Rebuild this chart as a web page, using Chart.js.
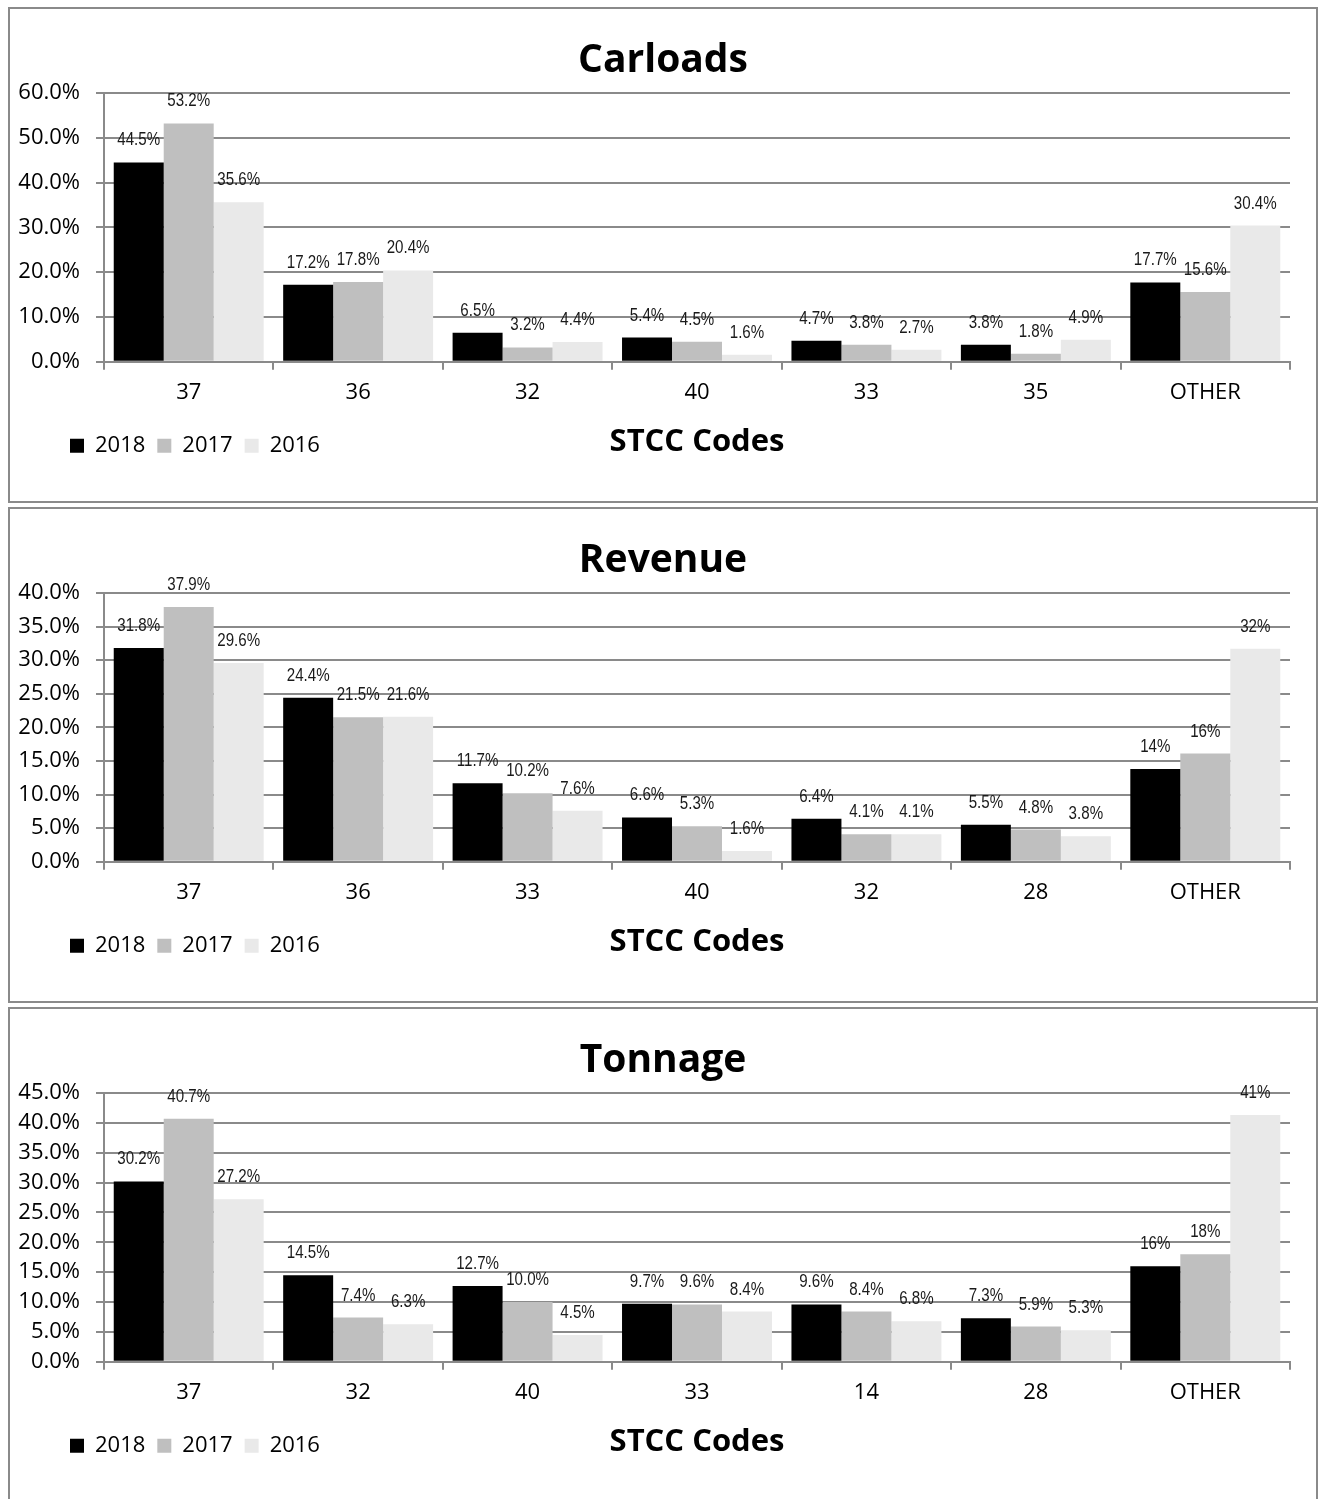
<!DOCTYPE html>
<html>
<head>
<meta charset="utf-8">
<script src="https://cdn.jsdelivr.net/npm/chart.js@4.4.1/dist/chart.umd.min.js"></script>
<style>
  html, body { margin: 0; padding: 0; background: #fff; }
  .box { position: absolute; left: 8px; width: 1306px; height: 492px; border: 2px solid #8a8a8a; background: #fff; }
  .box canvas { display: block; }
</style>
</head>
<body>
<div class="box" style="top:7px"><canvas id="c0" width="1306" height="492"></canvas></div>
<div class="box" style="top:507px"><canvas id="c1" width="1306" height="492"></canvas></div>
<div class="box" style="top:1007px"><canvas id="c2" width="1306" height="492"></canvas></div>
<script>
// ---------- data ----------
const yearLabels = ['2018', '2017', '2016'];
const xAxisTitle = 'STCC Codes';

const carloadTitle = 'Carloads';
const carloadCodes = ['37', '36', '32', '40', '33', '35', 'OTHER'];
const carloads2018 = [44.5, 17.2, 6.5, 5.4, 4.7, 3.8, 17.7];
const carloads2017 = [53.2, 17.8, 3.2, 4.5, 3.8, 1.8, 15.6];
const carloads2016 = [35.6, 20.4, 4.4, 1.6, 2.7, 4.9, 30.4];
const carloadDigits = [1, 1, 1, 1, 1, 1, 1];
const carloadYMax = 60, carloadYStep = 10;

const revenueTitle = 'Revenue';
const revenueCodes = ['37', '36', '33', '40', '32', '28', 'OTHER'];
const revenue2018 = [31.8, 24.4, 11.7, 6.6, 6.4, 5.5, 13.8];
const revenue2017 = [37.9, 21.5, 10.2, 5.3, 4.1, 4.8, 16.1];
const revenue2016 = [29.6, 21.6, 7.6, 1.6, 4.1, 3.8, 31.7];
const revenueDigits = [1, 1, 1, 1, 1, 1, 0];
const revenueYMax = 40, revenueYStep = 5;

const tonnageTitle = 'Tonnage';
const tonnageCodes = ['37', '32', '40', '33', '14', '28', 'OTHER'];
const tonnage2018 = [30.2, 14.5, 12.7, 9.7, 9.6, 7.3, 16.0];
const tonnage2017 = [40.7, 7.4, 10.0, 9.6, 8.4, 5.9, 18.0];
const tonnage2016 = [27.2, 6.3, 4.5, 8.4, 6.8, 5.3, 41.3];
const tonnageDigits = [1, 1, 1, 1, 1, 1, 0];
const tonnageYMax = 45, tonnageYStep = 5;

// ---------- styles ----------
const FONT = "'Open Sans', 'Liberation Sans', Arial, sans-serif";
const LABEL_FONT = "18px 'Liberation Sans', Arial, sans-serif";
const GRID = '#8a8a8a';
const barColors = ['#000000', '#bfbfbf', '#e9e9e9'];
const AXIS_TITLE_SIZE = 31;

const barLabels = {
  id: 'barLabels',
  afterDatasetsDraw(chart, args, opts) {
    const ctx = chart.ctx;
    chart.data.datasets.forEach((ds, di) => {
      const meta = chart.getDatasetMeta(di);
      meta.data.forEach((bar, i) => {
        const d = opts.digits[i];
        ctx.save();
        ctx.font = LABEL_FONT;
        ctx.fillStyle = '#1a1a1a';
        ctx.textAlign = 'center';
        ctx.textBaseline = 'middle';
        ctx.translate(bar.x, bar.y - 22);
        ctx.scale(0.84, 1);
        ctx.fillText(Number(ds.data[i]).toFixed(d) + '%', 0, 0);
        ctx.restore();
      });
    });
  }
};

const legendBeside = {
  id: 'legendBeside',
  afterLayout(chart) {
    const lg = chart.legend;
    const xs = chart.scales.x;
    const titleCenter = xs.bottom - 4 - AXIS_TITLE_SIZE * 1.2 / 2;
    const top = titleCenter + 4 - 12 - 11;
    lg.top = top; lg.height = 60; lg.bottom = top + 60;
    lg.left = 60 - 12; lg.width = 420; lg.right = lg.left + 420;
    const tb = chart.titleBlock;
    if (tb) { tb.left = 26; tb.width = tb.right - tb.left; }
  }
};

function makeChart(id, title, codes, s18, s17, s16, digits, yMax, yStep) {
  const series = [s18, s17, s16];
  return new Chart(document.getElementById(id), {
    type: 'bar',
    data: {
      labels: codes,
      datasets: yearLabels.map((y, i) => ({
        label: y,
        data: series[i],
        backgroundColor: barColors[i],
        borderWidth: 0,
        categoryPercentage: 0.885,
        barPercentage: 1.0
      }))
    },
    options: {
      responsive: false,
      devicePixelRatio: 1,
      animation: false,
      layout: { padding: { top: 0, left: 0, right: 26, bottom: 26.6 } },
      plugins: {
        title: {
          display: true, text: title, color: '#000',
          font: { family: FONT, size: 39, weight: 'bold' },
          padding: { top: 28.6, bottom: 8.6 }
        },
        legend: {
          display: true, position: 'bottom', align: 'start', maxHeight: 10,
          labels: {
            font: { family: FONT, size: 22 }, color: '#000',
            boxWidth: 14, boxHeight: 14, padding: 12
          }
        },
        tooltip: { enabled: false },
        barLabels: { digits: digits }
      },
      scales: {
        x: {
          grid: { display: true, drawOnChartArea: false, drawTicks: true, tickLength: 8, color: GRID, lineWidth: 2, offset: true },
          border: { display: true, color: GRID, width: 2 },
          ticks: { font: { family: FONT, size: 22 }, color: '#000', padding: 10 },
          title: {
            display: true, text: xAxisTitle, color: '#000',
            font: { family: FONT, size: AXIS_TITLE_SIZE, weight: 'bold' },
            padding: { top: 7, bottom: 4 }
          }
        },
        y: {
          min: 0, max: yMax,
          ticks: {
            stepSize: yStep, autoSkip: false, color: '#000', padding: 16,
            font: { family: FONT, size: 22 },
            callback: v => Number(v).toFixed(1) + '%'
          },
          grid: { color: GRID, lineWidth: 2, drawTicks: true, tickLength: 8 },
          border: { display: true, color: GRID, width: 2 },
          afterFit: s => { s.width = 94; }
        }
      }
    },
    plugins: [barLabels, legendBeside]
  });
}

makeChart('c0', carloadTitle, carloadCodes, carloads2018, carloads2017, carloads2016, carloadDigits, carloadYMax, carloadYStep);
makeChart('c1', revenueTitle, revenueCodes, revenue2018, revenue2017, revenue2016, revenueDigits, revenueYMax, revenueYStep);
makeChart('c2', tonnageTitle, tonnageCodes, tonnage2018, tonnage2017, tonnage2016, tonnageDigits, tonnageYMax, tonnageYStep);
</script>
</body>
</html>
